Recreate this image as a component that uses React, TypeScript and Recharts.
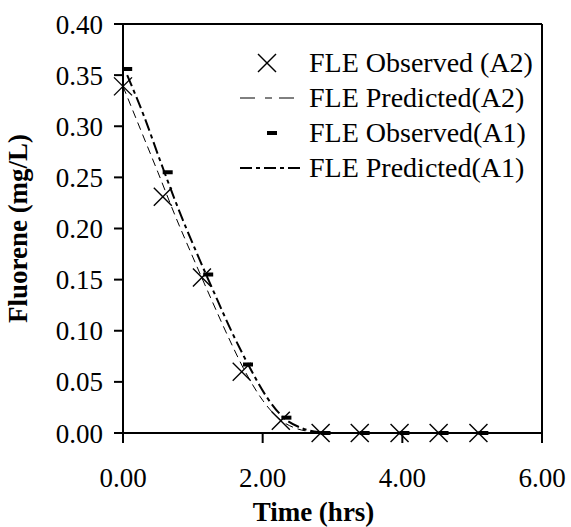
import React from "react";
import {
  ComposedChart,
  Line,
  Scatter,
  XAxis,
  YAxis,
  ReferenceLine,
  Legend,
} from "recharts";

// observed sampling times (hrs) and fluorene concentrations (mg/L)
const obsTimesA2 = [0, 0.57, 1.13, 1.7, 2.26, 2.83, 3.39, 3.96, 4.52, 5.09];
const obsValuesA2 = [0.339, 0.231, 0.152, 0.06, 0.012, 0, 0, 0, 0, 0];
const obsTimesA1 = [0.06, 0.64, 1.22, 1.79, 2.34, 2.9, 3.46, 4.03, 4.59, 5.16];
const obsValuesA1 = [0.356, 0.255, 0.155, 0.067, 0.015, 0, 0, 0, 0, 0];

// model curves
const predTimesA2 = [0, 0.25, 0.5, 0.75, 1.0, 1.25, 1.5, 1.75, 2.0, 2.25, 2.5, 2.75, 3.0, 4.0, 5.09];
const predValuesA2 = [0.339, 0.297, 0.255, 0.212, 0.172, 0.133, 0.095, 0.06, 0.032, 0.013, 0.004, 0.001, 0, 0, 0];
const predTimesA1 = [0.06, 0.3, 0.55, 0.8, 1.05, 1.3, 1.55, 1.8, 2.05, 2.3, 2.55, 2.8, 3.05, 4.0, 5.16];
const predValuesA1 = [0.35, 0.31, 0.263, 0.218, 0.177, 0.138, 0.1, 0.066, 0.036, 0.015, 0.005, 0.001, 0, 0, 0];

const xTicks = [0, 2, 4, 6];
const yTicks = [0, 0.05, 0.1, 0.15, 0.2, 0.25, 0.3, 0.35, 0.4];

const legendLabels = [
  "FLE Observed (A2)",
  "FLE Predicted(A2)",
  "FLE Observed(A1)",
  "FLE Predicted(A1)",
];

const zip = (ts: number[], vs: number[]) => ts.map((t, i) => ({ t, c: vs[i] }));

const obsA2 = zip(obsTimesA2, obsValuesA2);
const obsA1 = zip(obsTimesA1, obsValuesA1);
const predA2 = zip(predTimesA2, predValuesA2);
const predA1 = zip(predTimesA1, predValuesA1);

const FONT = "'Liberation Serif', 'Times New Roman', serif";
const DASH_A2 = "8 5";
const DASH_A1 = "12 4 4 4";

const CrossMark = (p: any) => {
  const { cx, cy } = p;
  if (cx == null || cy == null) return <g />;
  const r = 9;
  return (
    <g stroke="#000" strokeWidth={1.4}>
      <line x1={cx - r} y1={cy - r} x2={cx + r} y2={cy + r} />
      <line x1={cx - r} y1={cy + r} x2={cx + r} y2={cy - r} />
    </g>
  );
};

const DashMark = (p: any) => {
  const { cx, cy } = p;
  if (cx == null || cy == null) return <g />;
  return <rect x={cx - 5} y={cy - 2} width={10} height={4} fill="#000" />;
};

function LegendBox() {
  const rows = [63, 98, 133, 168];
  return (
    <svg width={571} height={200} style={{ display: "block" }}>
      {legendLabels.map((label, i) => {
        const y = rows[i];
        let sym: React.ReactNode = null;
        if (i === 0) sym = <CrossMark cx={267} cy={y} />;
        if (i === 1)
          sym = <line x1={240} x2={302} y1={y} y2={y} stroke="#000" strokeWidth={1} strokeDasharray="15 10 7 7" />;
        if (i === 2) sym = <DashMark cx={272} cy={y} />;
        if (i === 3)
          sym = <line x1={240} x2={302} y1={y} y2={y} stroke="#000" strokeWidth={2} strokeDasharray={DASH_A1} />;
        return (
          <g key={label}>
            {sym}
            <text x={309} y={y + 9} fontFamily={FONT} fontSize={28} fill="#000">
              {label}
            </text>
          </g>
        );
      })}
    </svg>
  );
}

export default function App() {
  return (
    <div style={{ position: "absolute", left: 0, top: 0, background: "#fff" }}>
      <ComposedChart width={571} height={527} margin={{ top: 24, right: 29, left: 0, bottom: 0 }}>
        <XAxis
          type="number"
          dataKey="t"
          domain={[0, 6]}
          ticks={xTicks}
          tickFormatter={(v) => Number(v).toFixed(2)}
          height={94}
          tickSize={10}
          tickMargin={25}
          stroke="#000"
          strokeWidth={2}
          tick={{ fill: "#000", fontFamily: FONT, fontSize: 27 }}
          label={{
            content: ({ viewBox }: any) => (
              <text
                x={viewBox.x + viewBox.width / 2 - 19}
                y={viewBox.y + 88}
                textAnchor="middle"
                fontFamily={FONT}
                fontSize={27}
                fontWeight="bold"
                fill="#000"
              >
                Time (hrs)
              </text>
            ),
          }}
        />
        <YAxis
          type="number"
          dataKey="c"
          domain={[0, 0.4]}
          ticks={yTicks}
          tickFormatter={(v) => Number(v).toFixed(2)}
          width={123}
          tickSize={9}
          tickMargin={11}
          stroke="#000"
          strokeWidth={2}
          tick={{ fill: "#000", fontFamily: FONT, fontSize: 27 }}
          label={{
            content: ({ viewBox }: any) => {
              const cy = viewBox.y + viewBox.height / 2;
              return (
                <text
                  x={27}
                  y={cy}
                  transform={`rotate(-90, 27, ${cy})`}
                  textAnchor="middle"
                  fontFamily={FONT}
                  fontSize={27}
                  fontWeight="bold"
                  fill="#000"
                >
                  Fluorene (mg/L)
                </text>
              );
            },
          }}
        />
        <ReferenceLine y={0.4} stroke="#000" strokeWidth={2} />
        <ReferenceLine x={6} stroke="#000" strokeWidth={2} />
        <Line
          data={predA2}
          dataKey="c"
          type="monotone"
          stroke="#000"
          strokeWidth={1}
          strokeDasharray={DASH_A2}
          dot={false}
          isAnimationActive={false}
          name={legendLabels[1]}
        />
        <Line
          data={predA1}
          dataKey="c"
          type="monotone"
          stroke="#000"
          strokeWidth={2}
          strokeDasharray={DASH_A1}
          dot={false}
          isAnimationActive={false}
          name={legendLabels[3]}
        />
        <Scatter data={obsA1} dataKey="c" shape={DashMark} isAnimationActive={false} name={legendLabels[2]} />
        <Scatter data={obsA2} dataKey="c" shape={CrossMark} isAnimationActive={false} name={legendLabels[0]} />
        <Legend
          layout="horizontal"
          verticalAlign="middle"
          align="center"
          content={() => <LegendBox />}
          wrapperStyle={{ position: "absolute", left: 0, top: 0, width: 571, height: 200, pointerEvents: "none" }}
        />
      </ComposedChart>
    </div>
  );
}
